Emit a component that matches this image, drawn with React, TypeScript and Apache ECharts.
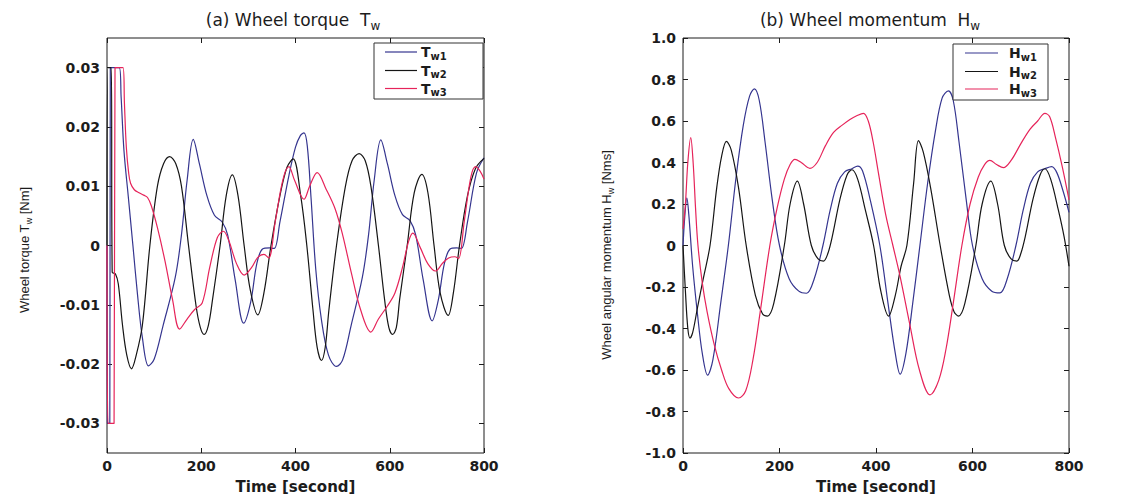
import React, { useEffect, useRef } from "react";
import * as echarts from "echarts";

// ---------- data ----------
const timeTicks = [0, 200, 400, 600, 800];
const torqueTicks = [-0.03, -0.02, -0.01, 0, 0.01, 0.02, 0.03];
const momentumTicks = [-1, -0.8, -0.6, -0.4, -0.2, 0, 0.2, 0.4, 0.6, 0.8, 1];

const torqueW1: [number, number][] = [
  [0, 0], [1, -0.03], [6, -0.03], [7, 0.03], [26, 0.03], [30, 0.025], [36, 0.016], [45, 0.0084], [55, 0],
  [65, -0.0085], [75, -0.0155], [88, -0.0203], [100, -0.0192], [119, -0.0135], [145, -0.0053], [158, 0.0018],
  [170, 0.011], [183, 0.0179], [196, 0.0138], [212, 0.0084], [228, 0.0051], [244, 0.004], [256, 0.0018],
  [272, -0.0058], [290, -0.0131], [305, -0.0095], [318, -0.003], [330, -0.0006], [345, -0.0004], [355, -0.0005],
  [367, 0.004], [386, 0.0118], [400, 0.0166], [410, 0.0185], [418, 0.019], [425, 0.0168], [433, 0.008],
  [443, -0.004], [455, -0.0125], [470, -0.0185], [487, -0.0204], [500, -0.0193], [518, -0.0135], [542, -0.0053],
  [555, 0.0018], [567, 0.011], [581, 0.0178], [595, 0.0138], [611, 0.0084], [627, 0.0052], [643, 0.0042],
  [655, 0.0018], [671, -0.0058], [690, -0.0127], [703, -0.0092], [716, -0.003], [728, -0.0006], [742, -0.0004],
  [752, -0.0005], [765, 0.004], [784, 0.0122], [800, 0.0148],
];
const torqueW2: [number, number][] = [
  [0, 0], [2, 0.03], [9, 0.03], [11, -0.0045], [18, -0.0048], [24, -0.0065], [33, -0.0135], [42, -0.0185],
  [52, -0.0208], [62, -0.0185], [75, -0.0135], [91, 0], [107, 0.01], [120, 0.0138], [133, 0.015], [146, 0.0138],
  [158, 0.01], [173, 0], [189, -0.0102], [198, -0.0138], [206, -0.015], [215, -0.0135], [224, -0.0091], [240, 0],
  [253, 0.0084], [266, 0.0119], [278, 0.0084], [291, 0], [304, -0.0075], [320, -0.0117], [333, -0.008], [348, 0],
  [367, 0.0084], [382, 0.0132], [395, 0.0146], [411, 0.0084], [424, 0], [437, -0.0108], [446, -0.0172],
  [455, -0.0194], [463, -0.0172], [471, -0.0108], [487, 0], [506, 0.01], [520, 0.0143], [535, 0.0155],
  [548, 0.0143], [560, 0.01], [576, 0], [589, -0.0091], [598, -0.0138], [606, -0.015], [614, -0.0138],
  [621, -0.0091], [637, 0], [652, 0.0089], [668, 0.012], [681, 0.0089], [694, 0], [707, -0.008], [724, -0.0118],
  [735, -0.008], [748, 0], [765, 0.0084], [782, 0.013], [800, 0.0147],
];
const torqueW3: [number, number][] = [
  [0, 0], [2, -0.03], [15, -0.03], [17, 0.03], [34, 0.03], [37, 0.024], [41, 0.0166], [46, 0.0122], [50, 0.0105],
  [58, 0.0094], [68, 0.0089], [78, 0.0085], [86, 0.0081], [94, 0.0067], [107, 0.003], [123, -0.0026],
  [139, -0.0091], [154, -0.0141], [170, -0.0124], [186, -0.0108], [202, -0.0097], [218, -0.0037], [234, 0.0013],
  [247, 0.0024], [259, 0.0007], [275, -0.0031], [291, -0.005], [307, -0.0037], [320, -0.002], [333, -0.0015],
  [343, -0.0021], [357, 0.004], [373, 0.011], [386, 0.0133], [398, 0.011], [418, 0.0078], [430, 0.01],
  [446, 0.0123], [465, 0.0095], [484, 0.0062], [500, 0.0018], [519, -0.0048], [538, -0.0108], [560, -0.0146],
  [576, -0.0124], [595, -0.0102], [611, -0.008], [627, -0.0037], [640, 0.0007], [649, 0.0021], [665, -0.0004],
  [681, -0.0031], [697, -0.0043], [712, -0.003], [725, -0.0021], [738, -0.0019], [746, -0.0022], [758, 0.004],
  [772, 0.0115], [782, 0.0133], [792, 0.0125], [800, 0.0112],
];

const momentumW1: [number, number][] = [
  [0, 0], [4, 0.15], [8, 0.23], [12, 0.15], [20, -0.1], [30, -0.33], [40, -0.52], [51, -0.625], [62, -0.55],
  [78, -0.28], [94, 0], [110, 0.33], [125, 0.58], [138, 0.72], [148, 0.755], [158, 0.7], [170, 0.5], [185, 0.22],
  [200, 0], [220, -0.16], [240, -0.22], [256, -0.23], [272, -0.16], [290, 0], [305, 0.17], [320, 0.3],
  [335, 0.355], [350, 0.37], [362, 0.383], [372, 0.36], [388, 0.22], [408, 0], [425, -0.28], [440, -0.52],
  [450, -0.62], [462, -0.52], [476, -0.28], [491, 0], [507, 0.3], [523, 0.55], [537, 0.71], [550, 0.745],
  [560, 0.7], [572, 0.5], [587, 0.22], [600, 0], [620, -0.16], [640, -0.22], [657, -0.228], [672, -0.16],
  [690, 0], [705, 0.17], [720, 0.3], [735, 0.355], [750, 0.37], [764, 0.38], [775, 0.35], [788, 0.26], [800, 0.16],
];
const momentumW2: [number, number][] = [
  [0, 0], [5, -0.22], [10, -0.4], [14.5, -0.446], [20, -0.42], [30, -0.3], [42, -0.16], [56, 0], [70, 0.28],
  [80, 0.43], [90, 0.502], [100, 0.46], [115, 0.28], [131, 0], [150, -0.24], [165, -0.33], [175, -0.34],
  [188, -0.28], [210, 0], [222, 0.2], [237, 0.31], [250, 0.2], [266, 0], [280, -0.065], [291, -0.075],
  [300, -0.04], [310, 0.05], [325, 0.22], [340, 0.34], [350, 0.365], [362, 0.32], [378, 0.17], [395, 0],
  [410, -0.22], [426, -0.34], [440, -0.24], [452, -0.1], [464, 0], [478, 0.3], [488, 0.505], [498, 0.45],
  [513, 0.28], [533, 0], [552, -0.24], [562, -0.32], [571, -0.34], [584, -0.28], [607, 0], [620, 0.2],
  [638, 0.31], [652, 0.2], [666, 0], [680, -0.065], [692, -0.075], [700, -0.04], [710, 0.05], [725, 0.22],
  [740, 0.34], [750, 0.37], [762, 0.32], [778, 0.17], [790, 0.04], [800, -0.1],
];
const momentumW3: [number, number][] = [
  [0, 0.08], [5, 0.2], [10, 0.4], [16, 0.52], [21, 0.4], [26, 0.18], [31, 0], [40, -0.18], [50, -0.32],
  [65, -0.48], [80, -0.6], [95, -0.69], [115, -0.735], [130, -0.7], [145, -0.55], [160, -0.32], [180, 0],
  [195, 0.18], [210, 0.32], [222, 0.39], [232, 0.415], [245, 0.4], [263, 0.372], [278, 0.4], [295, 0.48],
  [312, 0.545], [330, 0.58], [346, 0.607], [360, 0.625], [374, 0.637], [384, 0.6], [394, 0.5], [405, 0.35],
  [420, 0.15], [435, 0], [450, -0.15], [470, -0.38], [490, -0.6], [512, -0.72], [530, -0.65], [545, -0.5],
  [560, -0.28], [578, 0], [595, 0.2], [612, 0.33], [625, 0.39], [636, 0.41], [650, 0.39], [664, 0.375],
  [680, 0.41], [700, 0.49], [719, 0.56], [735, 0.6], [750, 0.637], [760, 0.62], [772, 0.52], [786, 0.38],
  [800, 0.22],
];

const BLUE = "#35358f";
const BLACK = "#151515";
const RED = "#e6245a";
const INK = "#1c1c1c";

const tickFont = { fontFamily: "DejaVu Sans", fontWeight: "bold" as const, fontSize: 14, color: INK };

function xAxisDef(grid: number, pos: "bottom" | "top") {
  return {
    type: "value",
    gridIndex: grid,
    position: pos,
    min: timeTicks[0],
    max: timeTicks[timeTicks.length - 1],
    interval: timeTicks[1] - timeTicks[0],
    axisLine: { show: false, onZero: false },
    axisTick: { show: true, inside: true, length: 5, lineStyle: { color: INK } },
    axisLabel:
      pos === "bottom"
        ? { show: true, margin: 6, showMinLabel: true, showMaxLabel: true, ...tickFont }
        : { show: false },
    splitLine: { show: false },
    name: pos === "bottom" ? "Time [second]" : "",
    nameLocation: "middle",
    nameGap: 26,
    nameTextStyle: { fontFamily: "DejaVu Sans", fontWeight: "bold", fontSize: 15, color: INK },
  };
}

function torqueY(pos: "left" | "right") {
  return {
    type: "value",
    gridIndex: 0,
    position: pos,
    min: -0.035,
    max: 0.035,
    axisLine: { show: false, onZero: false },
    axisTick: { show: true, inside: true, length: 5, customValues: torqueTicks, lineStyle: { color: INK } },
    axisLabel:
      pos === "left"
        ? {
            show: true,
            margin: 7,
            customValues: torqueTicks,
            formatter: (v: number) => (Math.abs(v) < 1e-9 ? "0" : v.toFixed(2)),
            ...tickFont,
          }
        : { show: false },
    splitLine: { show: false },
  };
}

function momentumY(pos: "left" | "right") {
  return {
    type: "value",
    gridIndex: 1,
    position: pos,
    min: momentumTicks[0],
    max: momentumTicks[momentumTicks.length - 1],
    interval: 0.2,
    axisLine: { show: false, onZero: false },
    axisTick: { show: true, inside: true, length: 5, lineStyle: { color: INK } },
    axisLabel:
      pos === "left"
        ? {
            show: true,
            margin: 7,
            showMinLabel: true,
            showMaxLabel: true,
            formatter: (v: number) => (Math.abs(v) < 1e-9 ? "0" : v.toFixed(1)),
            ...tickFont,
          }
        : { show: false },
    splitLine: { show: false },
  };
}

function lineSeries(name: string, data: [number, number][], color: string, ax: number) {
  return {
    type: "line",
    name,
    data,
    xAxisIndex: ax,
    yAxisIndex: ax,
    showSymbol: false,
    smooth: 0.35,
    lineStyle: { color, width: 1.2 },
    itemStyle: { color },
  };
}

function subText(
  x: number,
  y: number,
  main: string,
  sub: string,
  tail: string,
  mainStyle: any,
  subStyle: any,
  drop: number,
  extra: any = {}
) {
  const text = `{m|${main}}{s|${sub}}` + (tail ? `{m|${tail}}` : "");
  return {
    type: "text",
    x,
    y,
    z: 110,
    ...extra,
    style: {
      text,
      align: extra.align || "center",
      verticalAlign: "middle",
      rich: {
        m: { ...mainStyle, fill: INK },
        s: { ...subStyle, fill: INK, padding: [drop * 2, 0, 0, 0] },
      },
    },
  };
}

function legend(
  box: { x: number; y: number; w: number; h: number },
  lineX: [number, number],
  rowsY: number[],
  textX: number,
  letter: string,
  colors: string[]
) {
  const children: any[] = [
    {
      type: "rect",
      shape: { x: box.x, y: box.y, width: box.w, height: box.h },
      style: { fill: "#fff", stroke: "#333", lineWidth: 1 },
      z: 100,
    },
  ];
  rowsY.forEach((ry, i) => {
    children.push({
      type: "line",
      shape: { x1: lineX[0], y1: ry, x2: lineX[1], y2: ry },
      style: { stroke: colors[i], lineWidth: 1.2 },
      z: 105,
    });
    children.push(
      subText(
        textX,
        ry,
        letter,
        "w" + (i + 1),
        "",
        { fontFamily: "DejaVu Sans", fontWeight: "bold", fontSize: 14 },
        { fontFamily: "DejaVu Sans", fontWeight: "bold", fontSize: 10 },
        4,
        { align: "left" }
      )
    );
  });
  return children;
}

export default function App() {
  const ref = useRef<HTMLDivElement>(null);
  useEffect(() => {
    document.body.style.margin = "0";
    const chart = echarts.init(ref.current!, null, { renderer: "svg" });
    const titleMain = { fontFamily: "DejaVu Sans", fontSize: 17 };
    const titleSub = { fontFamily: "DejaVu Sans", fontSize: 12 };
    const yMain = { fontFamily: "Liberation Sans", fontSize: 13 };
    const ySub = { fontFamily: "Liberation Sans", fontSize: 9 };
    const colors = [BLUE, BLACK, RED];
    const option: any = {
      animation: false,
      backgroundColor: "#ffffff",
      grid: [
        { left: 107, top: 38, width: 377, height: 425, show: true, borderColor: INK, borderWidth: 1, backgroundColor: "transparent" },
        { left: 683, top: 38, width: 386, height: 426, show: true, borderColor: INK, borderWidth: 1, backgroundColor: "transparent" },
      ],
      xAxis: [xAxisDef(0, "bottom"), xAxisDef(0, "top"), xAxisDef(1, "bottom"), xAxisDef(1, "top")],
      yAxis: [torqueY("left"), torqueY("right"), momentumY("left"), momentumY("right")],
      series: [
        lineSeries("Tw1", torqueW1, BLUE, 0),
        lineSeries("Tw2", torqueW2, BLACK, 0),
        lineSeries("Tw3", torqueW3, RED, 0),
        lineSeries("Hw1", momentumW1, BLUE, 2),
        lineSeries("Hw2", momentumW2, BLACK, 2),
        lineSeries("Hw3", momentumW3, RED, 2),
      ],
      graphic: [
        subText(293, 20, "(a) Wheel torque  T", "w", "", titleMain, titleSub, 6),
        subText(870, 20, "(b) Wheel momentum  H", "w", "", titleMain, titleSub, 6),
        subText(24, 250, "Wheel torque T", "w", " [Nm]", yMain, ySub, 5, { rotation: Math.PI / 2 }),
        subText(606, 255, "Wheel angular momentum H", "w", " [Nms]", yMain, ySub, 5, { rotation: Math.PI / 2 }),
        ...legend({ x: 374, y: 43, w: 109, h: 56 }, [385, 417], [52, 70.5, 88.5], 421, "T", colors),
        ...legend({ x: 953, y: 44, w: 95, h: 56 }, [965, 998], [53, 71.5, 89], 1009, "H", colors),
      ],
    };
    chart.setOption(option);
    return () => chart.dispose();
  }, []);
  return <div ref={ref} style={{ width: 1137, height: 499 }} />;
}
